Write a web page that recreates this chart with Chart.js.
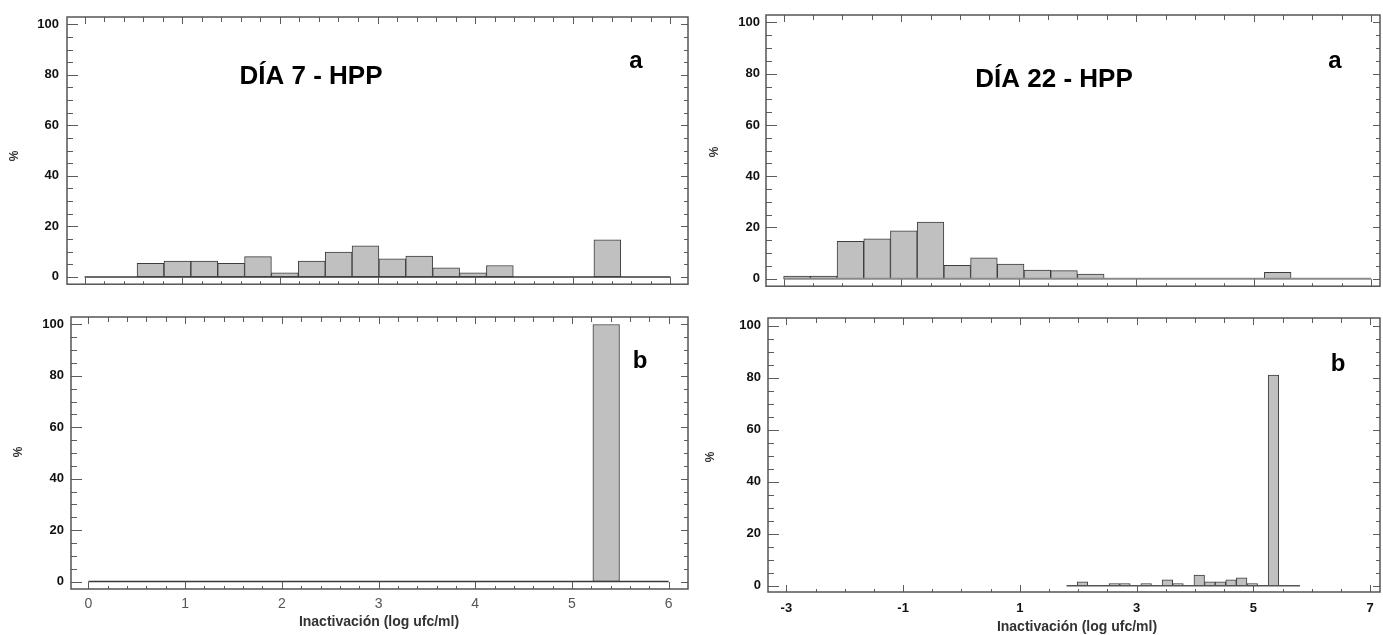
<!DOCTYPE html>
<html>
<head>
<meta charset="utf-8">
<script src="https://cdn.jsdelivr.net/npm/chart.js@4.4.1/dist/chart.umd.min.js"></script>
<style>
  html, body { margin: 0; padding: 0; background: #fff; }
  body { width: 1383px; height: 635px; position: relative; overflow: hidden; }
  .panel { position: absolute; }
  .panel canvas { display: block; }
</style>
</head>
<body>
<div class="panel" style="left:0;top:0"><canvas id="c-tl" width="692" height="300"></canvas></div>
<div class="panel" style="left:0;top:300px"><canvas id="c-bl" width="692" height="335"></canvas></div>
<div class="panel" style="left:700px;top:0"><canvas id="c-tr" width="683" height="300"></canvas></div>
<div class="panel" style="left:700px;top:300px"><canvas id="c-br" width="683" height="335"></canvas></div>
<script>
// histogram bin centres (log ufc/ml), 22 bins per panel
const binsDay7 = [0.125, 0.400, 0.675, 0.951, 1.226, 1.501, 1.776, 2.051, 2.327, 2.602, 2.877,
                  3.152, 3.427, 3.703, 3.978, 4.253, 4.528, 4.803, 5.079, 5.354, 5.629, 5.904];
const binsDay22A = [-2.773, -2.318, -1.864, -1.409, -0.955, -0.5, -0.045, 0.409, 0.864, 1.318, 1.773,
                    2.227, 2.682, 3.136, 3.591, 4.045, 4.5, 4.955, 5.409, 5.864, 6.318, 6.773];
const binsDay22B = [1.891, 2.073, 2.255, 2.436, 2.618, 2.8, 2.982, 3.164, 3.345, 3.527, 3.709,
                    3.891, 4.073, 4.255, 4.436, 4.618, 4.8, 4.982, 5.164, 5.345, 5.527, 5.709];

// % per bin
const day7A  = [0, 0, 5.4, 6.3, 6.3, 5.4, 8.0, 1.6, 6.3, 9.8, 12.3, 7.1, 8.2, 3.6, 1.6, 4.5, 0, 0, 0, 14.7, 0, 0];
const day7B  = [0, 0, 0, 0, 0, 0, 0, 0, 0, 0, 0, 0, 0, 0, 0, 0, 0, 0, 0, 100, 0, 0];
const day22A = [1.0, 1.0, 14.6, 15.6, 18.7, 22.1, 5.2, 8.2, 5.7, 3.4, 3.2, 1.8, 0, 0, 0, 0, 0, 0, 2.5, 0, 0, 0];
const day22B = [0, 1.5, 0, 0, 0.8, 0.8, 0, 0.8, 0, 2.3, 0.8, 0, 4.1, 1.5, 1.5, 2.3, 3.0, 0.8, 0, 81, 0, 0];

// histogram limits (baseline)
const range7 = [0, 6];
const range22A = [-3, 7];
const range22B = [1.8, 5.8];

const yTicks = [0, 20, 40, 60, 80, 100];
const xTicks7 = [0, 1, 2, 3, 4, 5, 6];
const xTicks22 = [-3, -1, 1, 3, 5, 7];

const FONT = "'Liberation Sans', Arial, sans-serif";
Chart.defaults.font.family = FONT;

// box around the plot with inward tick marks on all four sides
const framePlugin = {
    id: 'frame',
    afterDraw(chart, args, o) {
        const ctx = chart.ctx;
        const a = chart.chartArea;
        const xs = chart.scales.x;
        const ys = chart.scales.y;
        ctx.save();
        ctx.strokeStyle = '#5c5c5c';
        ctx.lineWidth = 1;
        const line = (x1, y1, x2, y2) => { ctx.beginPath(); ctx.moveTo(x1, y1); ctx.lineTo(x2, y2); ctx.stroke(); };

        for (let v = 0; v <= 100; v += 5) {
            const py = Math.round(ys.getPixelForValue(v)) + 0.5;
            const major = v % 20 === 0;
            line(a.left, py, a.left + (major ? 11 : 6), py);
            line(a.right, py, a.right - (major ? 7 : 4), py);
        }
        const n = Math.round((o.to - o.from) / o.step);
        for (let i = 0; i <= n; i++) {
            const v = o.from + i * o.step;
            const px = Math.round(xs.getPixelForValue(v)) + 0.5;
            const major = o.major.includes(Math.round(v * 1000) / 1000);
            line(px, a.bottom, px, a.bottom - (major ? 7 : 3));
            line(px, a.top, px, a.top + (major ? 7 : 5));
        }
        ctx.lineWidth = 1.5;
        ctx.strokeStyle = '#555';
        ctx.strokeRect(a.left, a.top, a.right - a.left, a.bottom - a.top);
        ctx.restore();
    }
};

// free text: titles, panel letters, axis titles
const notesPlugin = {
    id: 'notes',
    afterDraw(chart, args, o) {
        const ctx = chart.ctx;
        (o.items || []).forEach(t => {
            ctx.save();
            ctx.font = t.font;
            ctx.fillStyle = t.color || '#000';
            ctx.textAlign = 'center';
            ctx.textBaseline = t.baseline || 'alphabetic';
            ctx.translate(t.x, t.y);
            if (t.rotate) ctx.rotate(t.rotate);
            ctx.fillText(t.text, 0, 0);
            ctx.restore();
        });
    }
};

function makePanel(id, cfg) {
    const ctx = document.getElementById(id).getContext('2d');
    return new Chart(ctx, {
        type: 'bar',
        data: {
            datasets: [
                {
                    type: 'line',
                    data: [{ x: cfg.range[0], y: 0 }, { x: cfg.range[1], y: 0 }],
                    borderColor: cfg.baseColor,
                    borderWidth: cfg.baseWidth,
                    pointRadius: 0,
                    order: 0,
                },
                {
                    type: 'bar',
                    data: cfg.bins.map((b, i) => ({ x: b, y: cfg.values[i] })),
                    backgroundColor: '#c0c0c0',
                    borderColor: '#3c3c3c',
                    borderWidth: 1,
                    borderSkipped: false,
                    barPercentage: 1,
                    categoryPercentage: 1,
                    order: 1,
                },
            ],
        },
        options: {
            responsive: false,
            animation: false,
            layout: { padding: { top: cfg.pad.top, right: cfg.pad.right, left: 0, bottom: 0 } },
            plugins: {
                legend: { display: false },
                tooltip: { enabled: false },
                frame: { from: cfg.tickFrom, to: cfg.tickTo, step: cfg.minor, major: cfg.xTicks },
                notes: { items: cfg.notes },
            },
            scales: {
                x: {
                    type: 'linear',
                    offset: false,
                    min: cfg.xMin,
                    max: cfg.xMax,
                    grid: { display: false, drawTicks: false },
                    border: { display: false },
                    afterBuildTicks: ax => { ax.ticks = cfg.xTicks.map(v => ({ value: v })); },
                    afterFit: ax => { ax.height = cfg.xHeight; },
                    ticks: {
                        display: cfg.showX,
                        padding: cfg.xPad,
                        color: cfg.xColor,
                        font: cfg.xFont,
                        maxRotation: 0,
                    },
                },
                y: {
                    min: cfg.yMin,
                    max: 102.9,
                    grid: { display: false, drawTicks: false },
                    border: { display: false },
                    afterBuildTicks: ax => { ax.ticks = yTicks.map(v => ({ value: v })); },
                    afterFit: ax => { ax.width = cfg.yWidth; },
                    ticks: {
                        padding: cfg.yPad,
                        color: '#111',
                        font: { size: 13, weight: 'bold' },
                    },
                },
            },
        },
        plugins: [framePlugin, notesPlugin],
    });
}

const UP = -Math.PI / 2;

makePanel('c-tl', {
    bins: binsDay7, values: day7A, range: range7,
    baseColor: '#3a3a3a', baseWidth: 1.5,
    xMin: -0.18, xMax: 6.18, yMin: -2.9,
    xTicks: xTicks7, tickFrom: 0, tickTo: 6, minor: 0.2,
    pad: { top: 17, right: 4 }, yWidth: 67, xHeight: 8, yPad: 8,
    showX: false,
    notes: [
        { text: 'DÍA 7 - HPP', x: 311, y: 84, font: 'bold 26px ' + FONT },
        { text: 'a', x: 636, y: 68, font: 'bold 24px ' + FONT },
        { text: '%', x: 15, y: 156, font: 'bold 12px ' + FONT, color: '#333', rotate: UP, baseline: 'middle' },
    ],
});

makePanel('c-bl', {
    bins: binsDay7, values: day7B, range: range7,
    baseColor: '#3a3a3a', baseWidth: 1.5,
    xMin: -0.18, xMax: 6.2, yMin: -2.9,
    xTicks: xTicks7, tickFrom: 0, tickTo: 6, minor: 0.2,
    pad: { top: 17, right: 4 }, yWidth: 71, xHeight: 46, yPad: 7,
    showX: true, xPad: 7, xColor: '#555', xFont: { size: 14, weight: 'normal' },
    notes: [
        { text: 'b', x: 640, y: 68, font: 'bold 24px ' + FONT },
        { text: '%', x: 19, y: 152, font: 'bold 12px ' + FONT, color: '#333', rotate: UP, baseline: 'middle' },
        { text: 'Inactivación (log ufc/ml)', x: 379, y: 326, font: 'bold 14px ' + FONT, color: '#333' },
    ],
});

makePanel('c-tr', {
    bins: binsDay22A, values: day22A, range: range22A,
    baseColor: '#8a8a8a', baseWidth: 2,
    xMin: -3.3, xMax: 7.15, yMin: -2.9,
    xTicks: xTicks22, tickFrom: -3, tickTo: 7, minor: 0.5,
    pad: { top: 15, right: 3 }, yWidth: 66, xHeight: 8, yPad: 6,
    showX: false,
    notes: [
        { text: 'DÍA 22 - HPP', x: 354, y: 87, font: 'bold 26px ' + FONT },
        { text: 'a', x: 635, y: 68, font: 'bold 24px ' + FONT },
        { text: '%', x: 15, y: 152, font: 'bold 12px ' + FONT, color: '#333', rotate: UP, baseline: 'middle' },
    ],
});

makePanel('c-br', {
    bins: binsDay22B, values: day22B, range: range22B,
    baseColor: '#555', baseWidth: 1.5,
    xMin: -3.315, xMax: 7.17, yMin: -2.4,
    xTicks: xTicks22, tickFrom: -3, tickTo: 7, minor: 0.5,
    pad: { top: 18, right: 3 }, yWidth: 68, xHeight: 43, yPad: 7,
    showX: true, xPad: 9, xColor: '#111', xFont: { size: 13, weight: 'bold' },
    notes: [
        { text: 'b', x: 638, y: 71, font: 'bold 24px ' + FONT },
        { text: '%', x: 11, y: 157, font: 'bold 12px ' + FONT, color: '#333', rotate: UP, baseline: 'middle' },
        { text: 'Inactivación (log ufc/ml)', x: 377, y: 331, font: 'bold 14px ' + FONT, color: '#333' },
    ],
});
</script>
</body>
</html>
